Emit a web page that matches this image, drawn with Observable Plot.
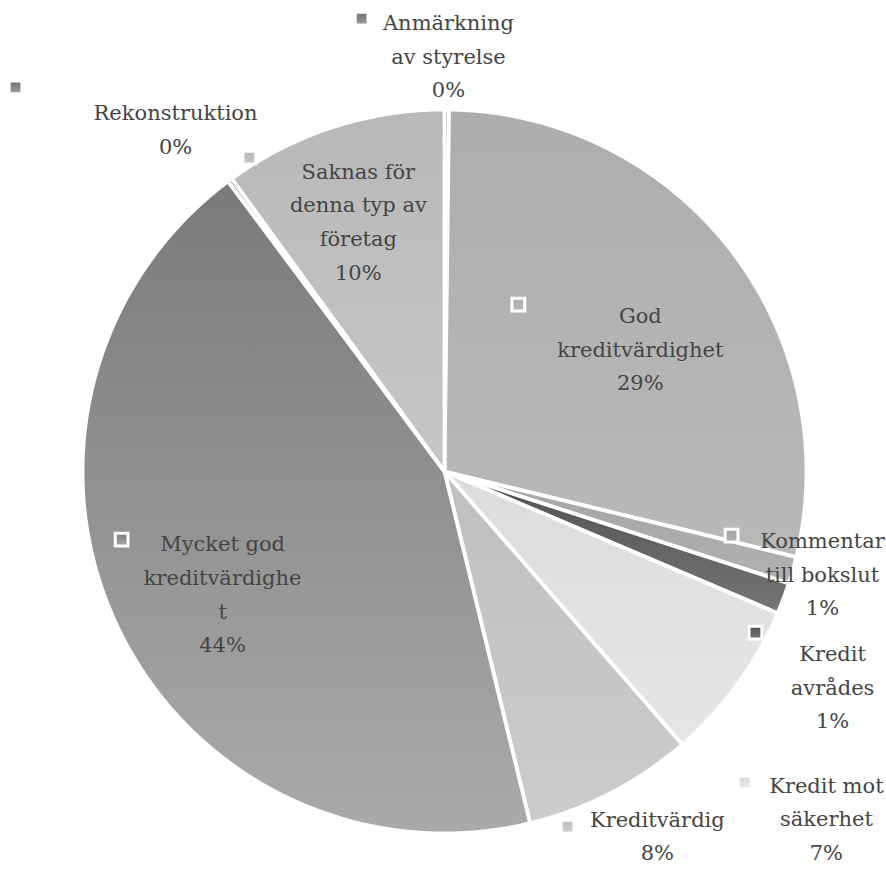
<!DOCTYPE html>
<html>
<head>
<meta charset="utf-8">
<script src="https://cdn.jsdelivr.net/npm/d3@7"></script>
<script src="https://cdn.jsdelivr.net/npm/@observablehq/plot@0.6"></script>
<style>
  html, body { margin: 0; padding: 0; background: #ffffff; }
  #chart { width: 886px; height: 869px; }
</style>
</head>
<body>
<div id="chart"></div>
<script>
// ---- data ----
const categories = [
  "Anmärkning av styrelse",
  "God kreditvärdighet",
  "Kommentar till bokslut",
  "Kredit avrådes",
  "Kredit mot säkerhet",
  "Kreditvärdig",
  "Mycket god kreditvärdighet",
  "Rekonstruktion",
  "Saknas för denna typ av företag"
];
const values = [0.2, 28.6, 1.2, 1.4, 7.2, 7.6, 43.6, 0.2, 10.0];
// label text as wrapped in the reference
const labelLines = [
  ["Anmärkning", "av styrelse"],
  ["God", "kreditvärdighet"],
  ["Kommentar", "till bokslut"],
  ["Kredit", "avrådes"],
  ["Kredit mot", "säkerhet"],
  ["Kreditvärdig"],
  ["Mycket god", "kreditvärdighe", "t"],
  ["Rekonstruktion"],
  ["Saknas för", "denna typ av", "företag"]
];

// ---- styles (gradient top/bottom per slice) ----
const palette = [
  ["#6e6e6e", "#9c9c9c"],
  ["#adadad", "#b9b9b9"],
  ["#a3a3a3", "#b1b1b1"],
  ["#4f4f4f", "#767676"],
  ["#dcdcdc", "#e6e6e6"],
  ["#bfbfbf", "#cccccc"],
  ["#7a7a7a", "#aaaaaa"],
  ["#6e6e6e", "#9c9c9c"],
  ["#b8b8b8", "#c6c6c6"]
];

// ---- layout of labels and keys, in pie-radius units from the centre (y up) ----
const labelLayout = [
  {tx: 0.011, ty: 1.156, kx: -0.229, ky: 1.251},
  {tx: 0.541, ty: 0.347, kx: 0.204, ky: 0.461},
  {tx: 1.044, ty: -0.275, kx: 0.793, ky: -0.177},
  {tx: 1.072, ty: -0.587, kx: 0.859, ky: -0.445},
  {tx: 1.055, ty: -0.950, kx: 0.829, ky: -0.859},
  {tx: 0.588, ty: -0.998, kx: 0.340, ky: -0.981},
  {tx: -0.613, ty: -0.330, kx: -0.892, ky: -0.188},
  {tx: -0.743, ty: 0.954, kx: -1.185, ky: 1.061},
  {tx: -0.238, ty: 0.699, kx: -0.539, ky: 0.867}
];

const W = 886, H = 869;
const R = 362, CX = 444, CY = 471;

const total = d3.sum(values);
const arcs = d3.pie().sort(null).value(d => d)(values);

// polygon for each slice in unit coordinates (clockwise from 12 o'clock)
const slices = arcs.map((a, i) => {
  const pts = [{x: 0, y: 0}];
  const n = Math.max(2, Math.ceil((a.endAngle - a.startAngle) / (Math.PI / 360)));
  for (let k = 0; k <= n; k++) {
    const t = a.startAngle + (a.endAngle - a.startAngle) * k / n;
    pts.push({x: Math.sin(t), y: Math.cos(t)});
  }
  pts.push({x: 0, y: 0});
  return pts;
});

const labels = categories.map((c, i) => ({
  text: [...labelLines[i], Math.round(values[i] / total * 100) + "%"].join("\n"),
  x: labelLayout[i].tx,
  y: labelLayout[i].ty
}));

const marks = [];
slices.forEach((pts, i) => {
  marks.push(Plot.line(pts, {
    x: "x", y: "y", curve: "linear",
    fill: `url(#slice${i})`, stroke: "#ffffff", strokeWidth: 3.8, strokeLinejoin: "round"
  }));
});
categories.forEach((c, i) => {
  marks.push(Plot.dot([labelLayout[i]], {
    x: "kx", y: "ky", symbol: "square", r: 7.2,
    fill: `url(#key${i})`, stroke: "#ffffff", strokeWidth: 3
  }));
});
marks.push(Plot.text(labels, {
  x: "x", y: "y", text: "text",
  fill: "#454545", fontSize: 21, lineHeight: 1.6,
  textAnchor: "middle", lineAnchor: "middle"
}));

const svg = Plot.plot({
  width: W, height: H,
  margin: 0,
  x: {domain: [-CX / R, (W - CX) / R], axis: null},
  y: {domain: [-(H - CY) / R, CY / R], axis: null},
  style: {background: "#ffffff", fontFamily: "'DejaVu Serif', serif"},
  marks
});

const defs = d3.select(svg).insert("defs", ":first-child");
palette.forEach((p, i) => {
  ["slice", "key"].forEach(prefix => {
    const g = defs.append("linearGradient")
      .attr("id", prefix + i)
      .attr("x1", 0).attr("y1", 0).attr("x2", 0).attr("y2", 1);
    g.append("stop").attr("offset", "0%").attr("stop-color", p[0]);
    g.append("stop").attr("offset", "100%").attr("stop-color", p[1]);
  });
});

document.getElementById("chart").appendChild(svg);
</script>
</body>
</html>
